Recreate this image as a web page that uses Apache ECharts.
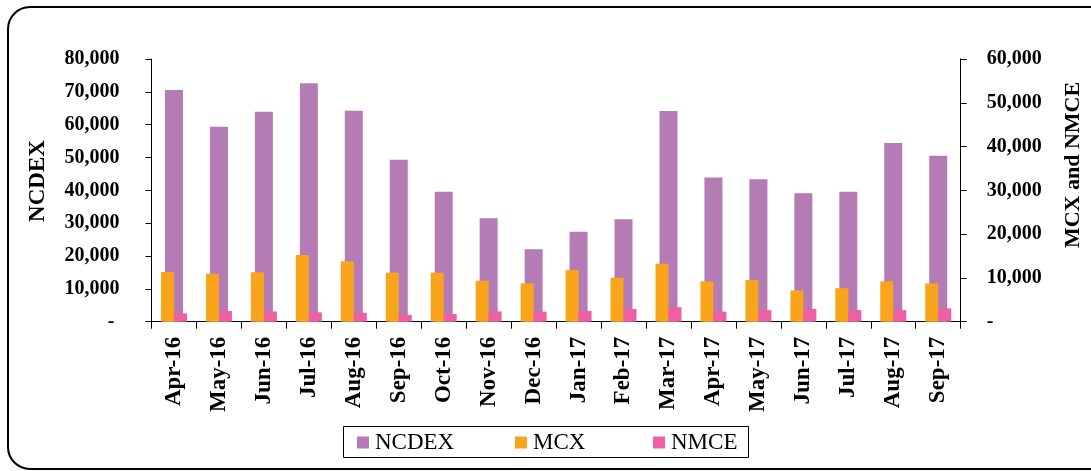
<!DOCTYPE html>
<html>
<head>
<meta charset="utf-8">
<script src="https://cdn.jsdelivr.net/npm/echarts@6/dist/echarts.min.js"></script>
<style>
  html, body { margin: 0; padding: 0; background: #fff; }
  #chart { width: 1091px; height: 471px; }
</style>
</head>
<body>
<div id="chart"></div>
<script>
var months = ['Apr-16', 'May-16', 'Jun-16', 'Jul-16', 'Aug-16', 'Sep-16', 'Oct-16', 'Nov-16', 'Dec-16',
              'Jan-17', 'Feb-17', 'Mar-17', 'Apr-17', 'May-17', 'Jun-17', 'Jul-17', 'Aug-17', 'Sep-17'];

var ncdex = [70550, 59400, 63950, 72600, 64250, 49300, 39600, 31500, 22050,
             27400, 31200, 64150, 43950, 43350, 39100, 39600, 54400, 50550];
var mcx = [11350, 10950, 11300, 15250, 13800, 11200, 11200, 9350, 8750,
           11800, 10050, 13250, 9200, 9500, 7150, 7650, 9200, 8750];
var nmce = [1900, 2450, 2350, 2150, 2050, 1550, 1750, 2350, 2300,
            2450, 2900, 3300, 2300, 2650, 2900, 2650, 2650, 3050];

var leftTicks = { min: 0, max: 80000, step: 10000 };
var rightTicks = { min: 0, max: 60000, step: 10000 };

var FONT = '"Liberation Serif", "Times New Roman", serif';

var fmtLeft = function(v) {
   return v === 0 ? '- ' : v.toLocaleString('en-US');
};
var fmtRight = function(v) {
   return v === 0 ? '-' : v.toLocaleString('en-US');
};

var valueAxis = function(ticks, pos, fmt, margin) {
   return {
      type: 'value',
      position: pos,
      min: ticks.min,
      max: ticks.max,
      interval: ticks.step,
      axisLine: { show: true, lineStyle: { color: '#000', width: 1 } },
      axisTick: { show: true, length: 6, lineStyle: { color: '#000' } },
      splitLine: { show: false },
      axisLabel: { formatter: fmt, margin: margin, fontFamily: FONT, fontWeight: 'bold', fontSize: 20, color: '#000' }
   };
};

var legendAt = function(name, left) {
   return {
      data: [name],
      left: left,
      top: 431,
      icon: 'rect',
      itemWidth: 12,
      itemHeight: 12,
      padding: 0,
      textStyle: { fontFamily: FONT, fontSize: 23, color: '#000', padding: [0, 0, 0, 1] }
   };
};

// rotated axis titles (read bottom to top)
var axisTitle = function(text, x, y, size) {
   return {
      type: 'text',
      x: x,
      y: y,
      rotation: Math.PI / 2,
      silent: true,
      style: {
         text: text,
         fontFamily: FONT,
         fontWeight: 'bold',
         fontSize: size,
         fill: '#000',
         align: 'center',
         verticalAlign: 'middle'
      }
   };
};

var chart = echarts.init(document.getElementById('chart'), null, { renderer: 'canvas' });

var option = {
   backgroundColor: '#fff',
   animation: false,
   grid: { left: 151.5, right: 130.3, top: 59, bottom: 149.3, containLabel: false },
   legend: [legendAt('NCDEX', 357), legendAt('MCX', 515), legendAt('NMCE', 653)],
   xAxis: [{
      type: 'category',
      data: months,
      axisLine: { lineStyle: { color: '#000', width: 1 } },
      axisTick: { show: true, length: 7, alignWithLabel: false, lineStyle: { color: '#000' } },
      axisLabel: { rotate: 90, margin: 15, interval: 0, fontFamily: FONT, fontWeight: 'bold', fontSize: 23, color: '#000' }
   }, {
      type: 'category',
      data: months,
      show: false
   }],
   yAxis: [
      valueAxis(leftTicks, 'left', fmtLeft, 32),
      valueAxis(rightTicks, 'right', fmtRight, 26)
   ],
   series: [{
      name: 'NCDEX',
      type: 'bar',
      xAxisIndex: 0,
      yAxisIndex: 0,
      barWidth: 18,
      itemStyle: { color: '#B57BB5' },
      data: ncdex
   }, {
      name: 'MCX',
      type: 'bar',
      xAxisIndex: 1,
      yAxisIndex: 1,
      barWidth: 13,
      barGap: '0%',
      itemStyle: { color: '#F8A51C' },
      data: mcx
   }, {
      name: 'NMCE',
      type: 'bar',
      xAxisIndex: 1,
      yAxisIndex: 1,
      barWidth: 13,
      barGap: '0%',
      itemStyle: { color: '#EE5FA3' },
      data: nmce
   }],
   graphic: [{
      type: 'rect',
      shape: { x: 8, y: 7, width: 1110, height: 462, r: 22 },
      style: { fill: 'none', stroke: '#000', lineWidth: 2 },
      silent: true
   }, {
      type: 'rect',
      shape: { x: 343.5, y: 426.5, width: 405, height: 31 },
      style: { fill: 'none', stroke: '#000', lineWidth: 1 },
      silent: true
   },
   axisTitle('NCDEX', 38, 181, 23),
   axisTitle('MCX and NMCE', 1073, 165, 22)]
};

chart.setOption(option);
</script>
</body>
</html>
